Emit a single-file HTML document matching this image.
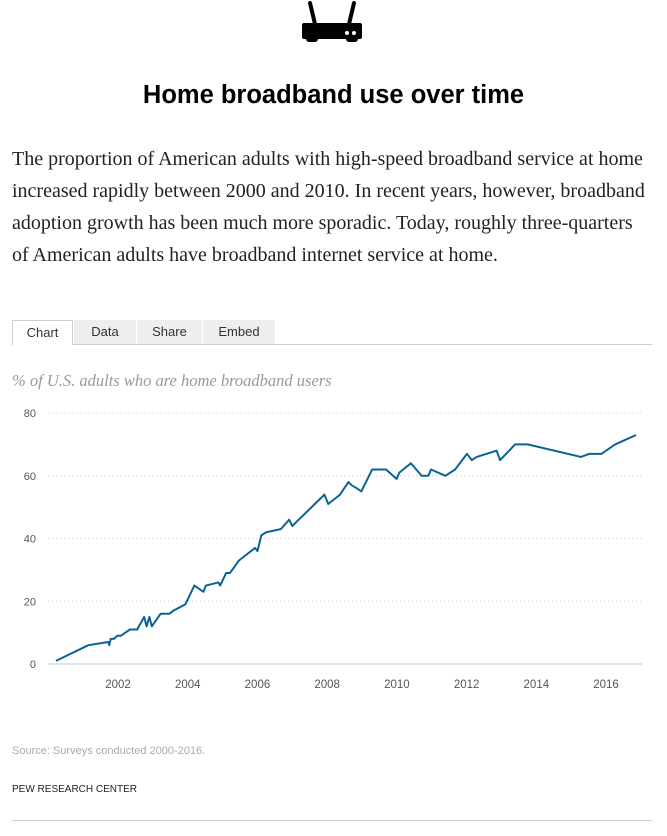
<!DOCTYPE html>
<html><head><meta charset="utf-8">
<style>
body{margin:0;background:#fff;width:667px;height:836px;position:relative;overflow:hidden;font-family:"Liberation Sans",sans-serif;}
.abs{position:absolute;}
#title{left:0;width:667px;top:81px;text-align:center;font-size:25.5px;font-weight:bold;color:#000;}
#intro{left:12px;top:143px;width:660px;font-family:"Liberation Serif",serif;font-size:20px;line-height:32px;color:#222;white-space:nowrap;}
.tab{top:320px;height:24px;line-height:24px;font-size:13px;color:#333;text-align:center;background:#eee;box-sizing:border-box;}
#sub{left:12px;top:371px;font-family:"Liberation Serif",serif;font-style:italic;font-size:16.5px;color:#999;}
</style></head><body>
<svg class="abs" style="left:300px;top:0" width="64" height="44">
<line x1="10" y1="3" x2="15" y2="24" stroke="#000" stroke-width="4" stroke-linecap="round"/>
<line x1="54" y1="3" x2="49" y2="24" stroke="#000" stroke-width="4" stroke-linecap="round"/>
<rect x="2" y="23" width="60" height="16" rx="2" fill="#000"/>
<rect x="6" y="36" width="12" height="6" rx="3" fill="#000"/><rect x="46" y="36" width="12" height="6" rx="3" fill="#000"/>
<circle cx="47" cy="33" r="2" fill="#fff"/><circle cx="54" cy="33" r="2" fill="#fff"/>
</svg>
<div id="title" class="abs">Home broadband use over time</div>
<div id="intro" class="abs">The proportion of American adults with high-speed broadband service at home<br>increased rapidly between 2000 and 2010. In recent years, however, broadband<br>adoption growth has been much more sporadic. Today, roughly three-quarters<br>of American adults have broadband internet service at home.</div>
<div class="abs" style="left:12px;top:344px;width:640px;height:1px;background:#ccc"></div>
<div class="abs tab" style="left:12px;width:61px;background:#fff;border:1px solid #ccc;border-bottom:none;height:25px">Chart</div>
<div class="abs tab" style="left:74px;width:62px">Data</div>
<div class="abs tab" style="left:137px;width:65px">Share</div>
<div class="abs tab" style="left:203px;width:72px">Embed</div>
<div id="sub" class="abs">% of U.S. adults who are home broadband users</div>
<svg id="chart" class="abs" style="left:0;top:395px" width="667" height="300"></svg>
<div class="abs" style="left:12px;top:745px;font-size:11px;color:#aaa">Source: Surveys conducted 2000-2016.</div>
<div class="abs" style="left:12px;top:784px;font-size:10px;color:#222">PEW RESEARCH CENTER</div>
<div class="abs" style="left:12px;top:820px;width:640px;height:1px;background:#ccc"></div>
<script>
const years=[2000.22,2001.15,2001.72,2001.75,2001.79,2001.88,2001.98,2002.08,2002.34,2002.55,2002.75,2002.82,2002.9,2002.97,2003.22,2003.47,2003.59,2003.93,2004.19,2004.45,2004.52,2004.88,2004.93,2005.1,2005.21,2005.47,2005.93,2006.0,2006.11,2006.25,2006.67,2006.91,2007.0,2007.92,2008.03,2008.37,2008.61,2008.7,2008.85,2008.98,2009.29,2009.69,2009.99,2010.07,2010.4,2010.71,2010.9,2010.98,2011.39,2011.67,2012.01,2012.15,2012.29,2012.86,2012.96,2013.39,2013.75,2015.28,2015.52,2015.87,2016.26,2016.86];
const values=[1,6,7,6,8,8,9,9,11,11,15,12,15,12,16,16,17,19,25,23,25,26,25,29,29,33,37,36,41,42,43,46,44,54,51,54,58,57,56,55,62,62,59,61,64,60,60,62,60,62,67,65,66,68,65,70,70,66,67,67,70,73];
const yTicks=[0,20,40,60,80];
const xTicks=[2002,2004,2006,2008,2010,2012,2014,2016];
const svg=document.getElementById('chart');const NS='http://www.w3.org/2000/svg';
const X=y=>48.3+(y-2000)*34.86;
const Y=v=>(664-395)-v*3.137;
function mk(t,a){const e=document.createElementNS(NS,t);for(const k in a)e.setAttribute(k,a[k]);svg.appendChild(e);return e;}
yTicks.forEach(v=>{
 if(v>0){const g=mk('line',{x1:48,x2:642,y1:Y(v),y2:Y(v),stroke:'#ccc','stroke-dasharray':'1,3'});
 
 }
 const t=mk('text',{x:36,y:Y(v)+4,'text-anchor':'end','font-size':11,fill:'#555','font-family':'Liberation Sans,sans-serif'});t.textContent=v;
 
 
});
const base=mk('line',{x1:48,x2:642,y1:Y(0),y2:Y(0),stroke:'#b8c8d8','stroke-width':1});


xTicks.forEach(yr=>{const t=mk('text',{x:X(yr),y:Y(0)+24,'text-anchor':'middle','font-size':11.5,fill:'#555','font-family':'Liberation Sans,sans-serif'});t.textContent=yr;
 
 });
const p=mk('polyline',{points:years.map((y,i)=>X(y)+','+Y(values[i])).join(' '),fill:'none',stroke:'#0b6394','stroke-width':2,'stroke-linejoin':'round'});


</script>
</body></html>
